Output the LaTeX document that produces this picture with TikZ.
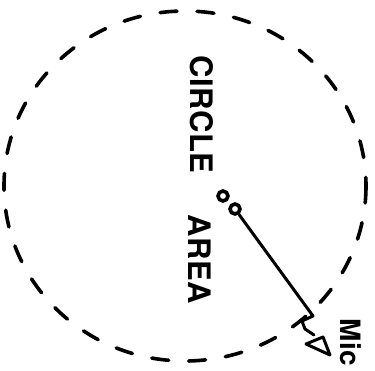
\documentclass[tikz,border=0pt]{standalone}
\usepackage{fontspec}
\usepackage{tikz}
\usetikzlibrary{arrows.meta, positioning}
\newfontfamily\handfont[LetterSpace=2]{TeX Gyre Heros Bold}
\definecolor{ink}{HTML}{000000}

\begin{document}
\begin{tikzpicture}[
    x=1pt, y=-1pt,
    ring/.style={draw=ink, line width=3.6pt, dash pattern=on 17pt off 20pt, line cap=round},
    lbl/.style={font=\handfont\fontsize{31}{33}\selectfont, text=ink, rotate=-90, inner sep=0pt},
    capsule/.style={circle, draw=ink, line width=3.6pt, minimum size=10pt, inner sep=0pt},
    cord/.style={draw=ink, line width=3pt, line cap=round, line join=round}
]
    \useasboundingbox (0, 0) rectangle (375, 370);

    % dashed circle
    \draw[ring] (185, 186) ellipse [x radius=181, y radius=175];

    % label
    \node[lbl, anchor=west] (circ) at (202, 55) {CIRCLE};
    \node[lbl, anchor=west] (area) at (200, 214) {AREA};

    % microphone
    \node[capsule] (capA) at (223, 196) {};
    \node[capsule] (capB) at (235, 209) {};
    \coordinate (kink) at (313, 316);
    \coordinate (tip) at (314, 335);
    \draw[cord] (capB) -- (kink) -- (302, 321) -- (305, 329) -- (tip);
    \draw[cord] (306, 344) -- (323, 337) -- (330, 355) -- cycle;
    \node[font=\handfont\fontsize{28}{30}\selectfont, text=ink, rotate=-90, anchor=west, inner sep=0pt] (mic) at (351, 318) {Mic};
\end{tikzpicture}
\end{document}
